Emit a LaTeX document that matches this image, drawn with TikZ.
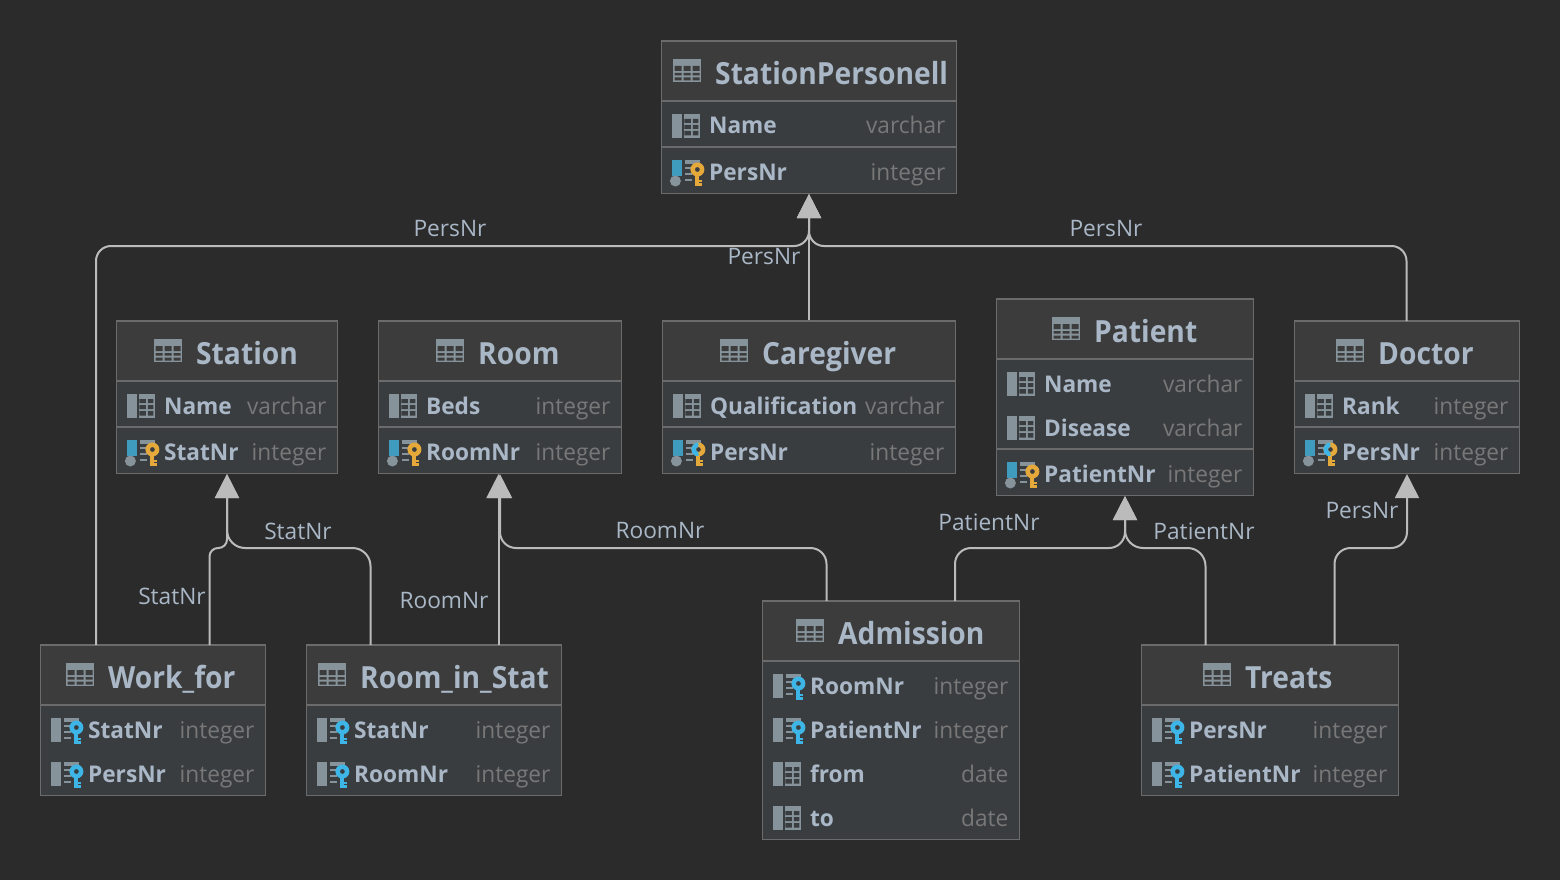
\documentclass[tikz,border=0pt]{standalone}
\usepackage{fontspec}
\setmainfont{Open Sans}
\newfontfamily\headfont[FakeStretch=0.925]{Open Sans}
\newfontfamily\rowfont[FakeStretch=0.985]{Open Sans}
\usetikzlibrary{arrows.meta}
\definecolor{canvas}{HTML}{2B2B2B}
\definecolor{headfill}{HTML}{3C3C3C}
\definecolor{bodyfill}{HTML}{3A3D40}
\definecolor{frame}{HTML}{6B6B6B}
\definecolor{inktext}{HTML}{A9B7C6}
\definecolor{inktype}{HTML}{787878}
\definecolor{inkline}{HTML}{BBBBBB}
\definecolor{icongrey}{HTML}{87939A}
\definecolor{iconblue}{HTML}{3F9CBF}
\definecolor{keyamber}{HTML}{E5A83B}
\definecolor{keycyan}{HTML}{3DB5E6}
\tikzset{
	entity/.style={draw=frame,line width=1.2pt,fill=bodyfill,inner sep=0pt},
	heading/.style={anchor=base west,text=inktext,font=\headfont\fontsize{30.5}{31}\selectfont\bfseries,inner sep=0pt},
	colname/.style={anchor=base west,text=inktext,font=\rowfont\fontsize{23}{24}\selectfont\bfseries,inner sep=0pt},
	coltype/.style={anchor=base east,text=inktype,font=\rowfont\fontsize{23}{24}\selectfont,inner sep=0pt},
	edge/.style={draw=inkline,line width=2pt,-{Triangle[length=24pt,width=24pt]}},
	weight/.style={text=inktext,font=\fontsize{22.7}{24}\selectfont,inner sep=0pt},
	pics/keypart/.style={code={
		\fill[#1] (23.5,2) rectangle (27.5,13.5);
		\fill[#1] (27,7.5) rectangle (30,9.5);
		\fill[#1] (27,11) rectangle (30,13.5);
		\fill[#1,even odd rule] (25.5,-2.5) circle (7) (25.5,-2.5) circle (2.5);
	}},
	pics/dashpart/.style={code={
		\fill[icongrey] (13,-12) rectangle (28,-8);
		\foreach \yy in {-5,1,7} \fill[icongrey] (13,\yy) rectangle (20,\yy+2);
	}},
	pics/tableicon/.style={code={
		\fill[icongrey] (0,-12) rectangle (28,11);
		\fill[headfill] (1.5,-5) rectangle (8.5,0) (10.5,-5) rectangle (17.5,0) (19.5,-5) rectangle (26.5,0);
		\fill[headfill] (1.5,2) rectangle (8.5,4.5) (10.5,2) rectangle (17.5,4.5) (19.5,2) rectangle (26.5,4.5);
		\fill[headfill] (1.5,6.5) rectangle (8.5,9.5) (10.5,6.5) rectangle (17.5,9.5) (19.5,6.5) rectangle (26.5,9.5);
	}},
	pics/colicon/.style={code={
		\fill[icongrey] (0,-12) rectangle (10.5,12);
		\fill[icongrey] (12.5,-12) rectangle (28,12);
		\fill[bodyfill] (12.5,-7) rectangle (19,-3) (12.5,-1) rectangle (19,3) (12.5,5) rectangle (19,9.5);
		\fill[bodyfill] (21,-7) rectangle (26.5,-3) (21,-1) rectangle (26.5,3) (21,5) rectangle (26.5,9.5);
	}},
	pics/pkicon/.style={code={
		\fill[iconblue] (0,-12) rectangle (10.5,4);
		\fill[icongrey] (3.5,9) circle (5.5);
		\pic {dashpart};
		\pic {keypart=keyamber};
	}},
	pics/fkicon/.style={code={
		\fill[icongrey] (0,-12) rectangle (10.5,12);
		\pic {dashpart};
		\pic {keypart=keycyan};
	}},
	pics/pkfkicon/.style={code={
		\fill[iconblue] (0,-12) rectangle (10.5,4);
		\fill[icongrey] (3.5,9) circle (5.5);
		\pic {dashpart};
		\pic {keypart=keyamber};
		\begin{scope}
			\clip (17,-10) rectangle (25.5,3);
			\pic {keypart=keycyan};
		\end{scope}
	}},
}

\begin{document}
\begin{tikzpicture}[x=1pt,y=-1pt]
	\fill[canvas] (0,0) rectangle (1560,880);
	\useasboundingbox (0,0) rectangle (1560,880);

	% First we draw the tables
	\foreach \name/\xa/\ya/\xb/\yb/\ysep/\xicon/\ttl in {
		StationPersonell/661.5/41/956.5/193.5/101/673/StationPersonell,
		Station/116.5/321/337.5/473.5/381/154/Station,
		Room/378.5/321/621.5/473.5/381/436/Room,
		Caregiver/662.5/321/955.5/473.5/381/720/Caregiver,
		Patient/996.5/299/1253.5/495.5/359/1052/Patient,
		Doctor/1294.5/321/1519.5/473.5/381/1336/Doctor,
		WorkFor/40.5/645/265.5/795.5/705/66/Work\_for,
		RoomInStat/306.5/645/561.5/795.5/705/318/Room\_in\_Stat,
		Admission/762.5/601/1019.5/839.5/661/796/Admission,
		Treats/1141.5/645/1398.5/795.5/705/1203/Treats}
	{
		\node[entity,minimum width={\xb pt-\xa pt},minimum height={\yb pt-\ya pt}] (\name) at ({(\xa+\xb)/2},{(\ya+\yb)/2}) {};
		\fill[headfill] (\xa+0.6,\ya+0.6) rectangle (\xb-0.6,\ysep);
		\draw[frame,line width=2pt] (\xa,\ysep) -- (\xb,\ysep);
		\pic at (\xicon,\ya+30) {tableicon};
		\node[heading] (\name-title) at (\xicon+42,\ya+43.5) {\ttl};
	}
	\draw[frame,line width=2pt] (661.5,147) -- (956.5,147) (116.5,427) -- (337.5,427) (378.5,427) -- (621.5,427)
		(662.5,427) -- (955.5,427) (996.5,449) -- (1253.5,449) (1294.5,427) -- (1519.5,427);

	% Then the columns, one list per icon
	\foreach \tbl/\y/\col/\typ in {StationPersonell/126/Name/varchar, Station/406/Name/varchar,
		Room/406/Beds/integer, Caregiver/406/Qualification/varchar, Patient/384/Name/varchar,
		Patient/428/Disease/varchar, Doctor/406/Rank/integer, Admission/774/from/date, Admission/818/to/date}
	{
		\pic at ([xshift=11pt]\tbl.west |- 0,\y) {colicon};
		\node[colname] (\tbl-\col) at ([xshift=48pt,yshift=-8pt]\tbl.west |- 0,\y) {\col};
		\node[coltype] (\tbl-\col-type) at ([xshift=-11.5pt,yshift=-8pt]\tbl.east |- 0,\y) {\typ};
	}
	\foreach \tbl/\y/\col/\typ in {StationPersonell/172/PersNr/integer, Station/452/StatNr/integer,
		Room/452/RoomNr/integer, Patient/474/PatientNr/integer}
	{
		\pic at ([xshift=11pt]\tbl.west |- 0,\y) {pkicon};
		\node[colname] (\tbl-\col) at ([xshift=48pt,yshift=-8pt]\tbl.west |- 0,\y) {\col};
		\node[coltype] (\tbl-\col-type) at ([xshift=-11.5pt,yshift=-8pt]\tbl.east |- 0,\y) {\typ};
	}
	\foreach \tbl/\y/\col/\typ in {Caregiver/452/PersNr/integer, Doctor/452/PersNr/integer}
	{
		\pic at ([xshift=11pt]\tbl.west |- 0,\y) {pkfkicon};
		\node[colname] (\tbl-\col) at ([xshift=48pt,yshift=-8pt]\tbl.west |- 0,\y) {\col};
		\node[coltype] (\tbl-\col-type) at ([xshift=-11.5pt,yshift=-8pt]\tbl.east |- 0,\y) {\typ};
	}
	\foreach \tbl/\y/\col/\typ in {WorkFor/730/StatNr/integer, WorkFor/774/PersNr/integer,
		RoomInStat/730/StatNr/integer, RoomInStat/774/RoomNr/integer, Admission/686/RoomNr/integer,
		Admission/730/PatientNr/integer, Treats/730/PersNr/integer, Treats/774/PatientNr/integer}
	{
		\pic at ([xshift=11pt]\tbl.west |- 0,\y) {fkicon};
		\node[colname] (\tbl-\col) at ([xshift=48pt,yshift=-8pt]\tbl.west |- 0,\y) {\col};
		\node[coltype] (\tbl-\col-type) at ([xshift=-11.5pt,yshift=-8pt]\tbl.east |- 0,\y) {\typ};
	}

	% Free ends of the connectors
	\foreach \px/\py/\name in {96/645/wfa, 209.5/645/wfb, 370.5/645/risa, 498.5/645/risb,
		826.5/601/ada, 955/601/adb, 1205.5/645/tra, 1334.5/645/trb, 1406.5/321/doa}
	\coordinate (\name) at (\px,\py);

	% Connect tables with edges
	\foreach \source/\dest/\ybend/\rad in {wfa/StationPersonell/246/15, doa/StationPersonell/246/15,
		wfb/Station/548/8.5, risa/Station/548/18, ada/Room/548/16, adb/Patient/548/16,
		tra/Patient/548/18, trb/Doctor/548/16}
	\path[edge,rounded corners=\rad pt] (\source) -- (\source |- 0,\ybend) -- (\dest.south |- 0,\ybend) -- (\dest.south);

	\path[edge] (Caregiver.north) -- (StationPersonell.south);
	\path[edge] (risb) -- (risb |- Room.south);

	% Connector labels
	\foreach \pos/\name/\weight in {{(450,229)/la/PersNr}, {(764,257)/lb/PersNr}, {(1106,229)/lc/PersNr},
		{(172,596)/ld/StatNr}, {(298,531)/le/StatNr}, {(444,601)/lf/RoomNr}, {(660,531)/lg/RoomNr},
		{(989,522)/lh/PatientNr}, {(1204,531)/li/PatientNr}, {(1362,511)/lj/PersNr}}
	\node[weight] (\name) at \pos {\weight};
\end{tikzpicture}
\end{document}
